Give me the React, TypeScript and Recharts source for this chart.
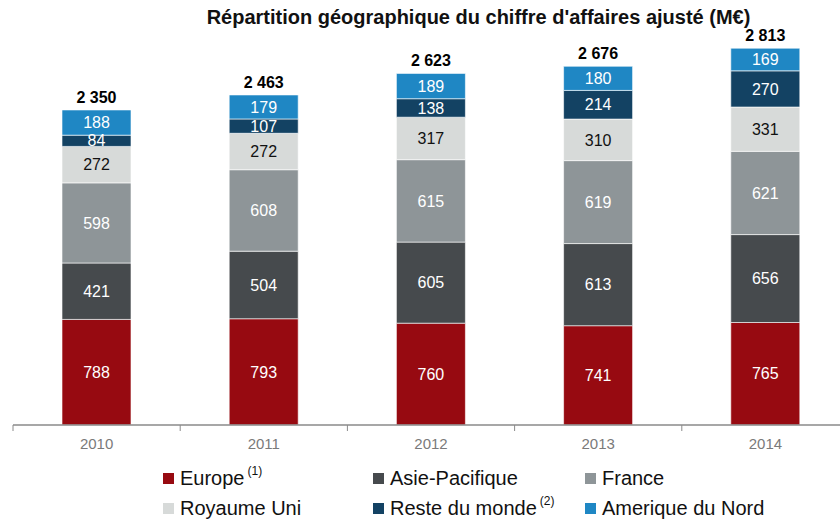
import React from 'react';
import { BarChart, Bar, XAxis, YAxis, LabelList } from 'recharts';

const years = ['2010', '2011', '2012', '2013', '2014'];
const europe = [788, 793, 760, 741, 765];
const asiePacifique = [421, 504, 605, 613, 656];
const france = [598, 608, 615, 619, 621];
const royaumeUni = [272, 272, 317, 310, 331];
const resteDuMonde = [84, 107, 138, 214, 270];
const ameriqueDuNord = [188, 179, 189, 180, 169];
const totals = [2350, 2463, 2623, 2676, 2813];

const series = [
  { key: 'europe', name: 'Europe', sup: '(1)', color: '#970a11', text: '#ffffff' },
  { key: 'asie', name: 'Asie-Pacifique', sup: '', color: '#464a4d', text: '#ffffff' },
  { key: 'france', name: 'France', sup: '', color: '#8e9598', text: '#ffffff' },
  { key: 'royaume', name: 'Royaume Uni', sup: '', color: '#d7dad9', text: '#111111' },
  { key: 'reste', name: 'Reste du monde', sup: '(2)', color: '#134263', text: '#ffffff' },
  { key: 'amerique', name: 'Amerique du Nord', sup: '', color: '#1f87c4', text: '#ffffff' },
];

const data = years.map((y, i) => ({
  year: y,
  europe: europe[i],
  asie: asiePacifique[i],
  france: france[i],
  royaume: royaumeUni[i],
  reste: resteDuMonde[i],
  amerique: ameriqueDuNord[i],
  total: totals[i],
}));

const FONT = '"Liberation Sans", Arial, sans-serif';
const CHART_W = 850;
const MARGIN = { top: 23, right: 1, bottom: 65, left: 13 };
const HALF_BAND = (CHART_W - MARGIN.left - MARGIN.right) / years.length / 2;

const fmtTotal = (v: any) => String(v).replace(/\B(?=(\d{3})+(?!\d))/g, ' ');

const Tick = (props: any) => {
  const { x, y, payload } = props;
  return (
    <g>
      <line x1={x - HALF_BAND} x2={x - HALF_BAND} y1={y - 8} y2={y - 2} stroke="#8a8a8a" strokeWidth={1} />
      <text x={x} y={y + 16} textAnchor="middle" fill="#7a7a7a" fontSize={15} fontFamily={FONT}>
        {payload.value}
      </text>
    </g>
  );
};

const legendRows = [series.slice(0, 3), series.slice(3, 6)];
const legendCols = [163, 373, 585];
const legendRowsY = [478, 508];

export default function App() {
  return (
    <div style={{ position: 'absolute', left: 0, top: 0, width: 840, height: 520, overflow: 'hidden', background: '#fff', fontFamily: FONT }}>
      <div
        style={{
          position: 'absolute',
          left: 0,
          width: 957,
          top: 6,
          textAlign: 'center',
          fontWeight: 'bold',
          fontSize: 20,
          color: '#111',
          whiteSpace: 'nowrap',
        }}
      >
        Répartition géographique du chiffre d'affaires ajusté (M€)
      </div>
      <div style={{ position: 'absolute', left: 0, top: 0 }}>
        <BarChart width={CHART_W} height={520} data={data} margin={MARGIN} barSize={69}>
          <YAxis hide domain={[0, 3000]} />
          <XAxis
            dataKey="year"
            tickLine={false}
            axisLine={{ stroke: '#8a8a8a', strokeWidth: 1.5 }}
            tick={<Tick />}
            interval={0}
          />
          {series.map((s, idx) => (
            <Bar
              key={s.key}
              dataKey={s.key}
              stackId="a"
              fill={s.color}
              stroke="#ffffff"
              strokeWidth={0.6}
              isAnimationActive={false}
            >
              <LabelList dataKey={s.key} position="center" fill={s.text} fontSize={16} fontFamily={FONT} />
              {idx === series.length - 1 ? (
                <LabelList
                  dataKey="total"
                  position="top"
                  offset={7}
                  fill="#000"
                  fontSize={16}
                  fontWeight="bold"
                  fontFamily={FONT}
                  formatter={fmtTotal}
                />
              ) : null}
            </Bar>
          ))}
        </BarChart>
      </div>
      {legendRows.map((row, r) =>
        row.map((s, c) => (
          <div
            key={s.key}
            style={{
              position: 'absolute',
              left: legendCols[c],
              top: legendRowsY[r] - 12,
              height: 24,
              display: 'flex',
              alignItems: 'center',
              whiteSpace: 'nowrap',
              fontSize: 20,
              color: '#111',
            }}
          >
            <span style={{ display: 'inline-block', width: 11, height: 11, background: s.color, marginRight: 6 }} />
            <span>{s.name}</span>
            {s.sup ? (
              <span style={{ fontSize: 12, position: 'relative', top: -7, marginLeft: 3 }}>{s.sup}</span>
            ) : null}
          </div>
        ))
      )}
    </div>
  );
}
